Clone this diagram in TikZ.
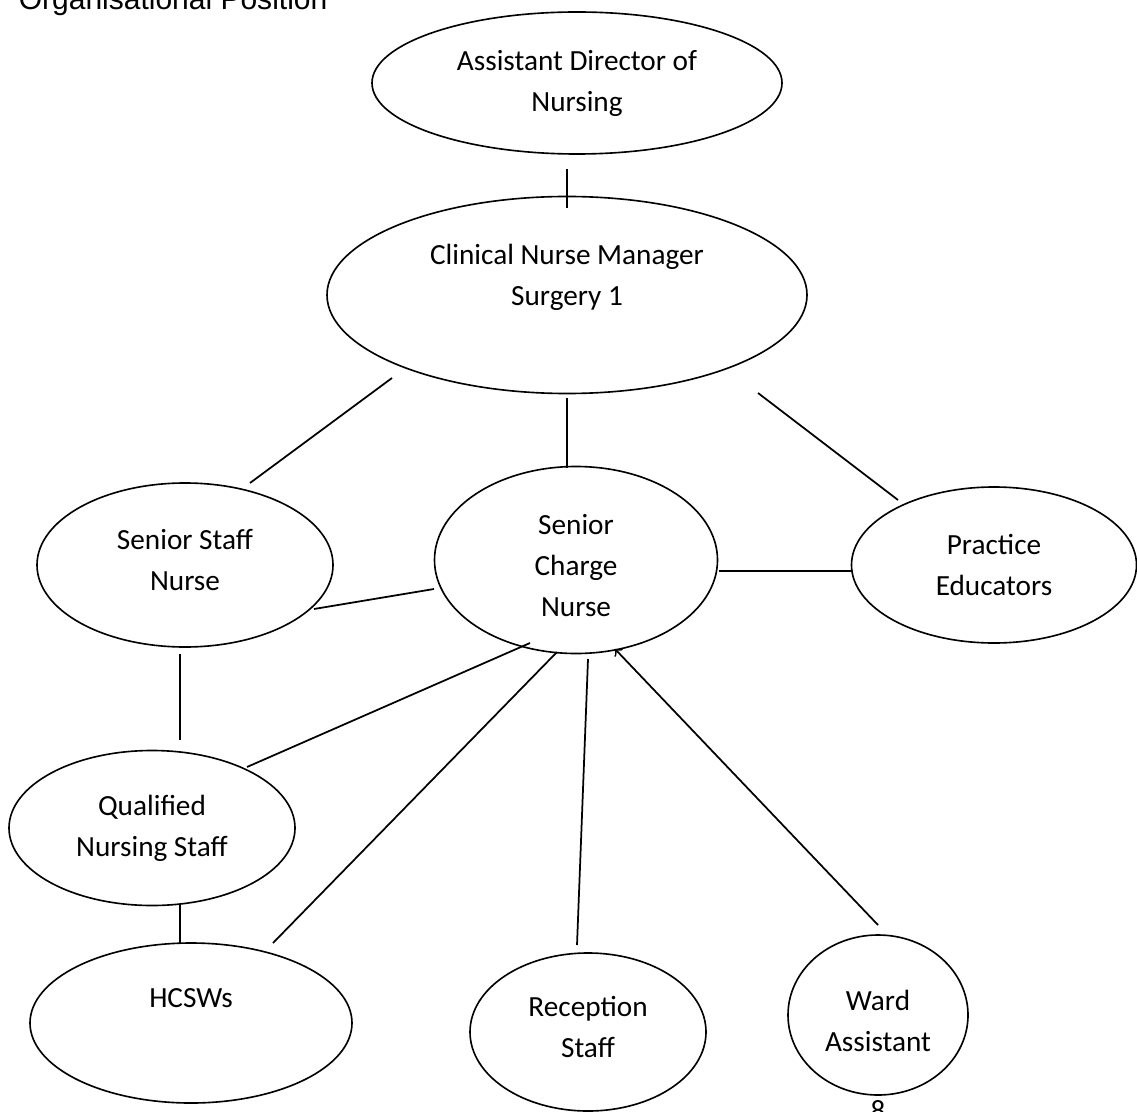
\documentclass[tikz,border=0pt]{standalone}
\usepackage{fontspec}
\usetikzlibrary{shapes.geometric,calc}
\newfontfamily\postfamily{Carlito}
\newfontfamily\headfamily{Liberation Sans}
\newcommand\postfont{\postfamily\fontsize{11.7pt}{16.4pt}\selectfont}
\newcommand\headfont{\headfamily\fontsize{12pt}{14pt}\selectfont}
\tikzset{
  post/.style={draw, ellipse, line width=0.65pt, inner sep=0pt, align=center, font=\postfont},
  link/.style={line width=0.7pt},
}
\begin{document}
\begin{tikzpicture}[x=0.4pt, y=-0.4pt]
\useasboundingbox (0,0) rectangle (1137,1111);
\node[anchor=base west, font=\headfont] (title) at (10,10) {Organisational Position};
\node[post, minimum width=164pt, minimum height=56.8pt] (adn) at (577,83) {Assistant Director of\\Nursing};
\node[post, minimum width=192pt, minimum height=78.8pt] (cnm) at (567,295) {Clinical Nurse Manager\\Surgery 1\\\mbox{}};
\node[post, minimum width=118.4pt, minimum height=65.6pt] (ssn) at (185,565) {Senior Staff\\Nurse\rule[-4pt]{0pt}{0pt}};
\node[post, minimum width=113.2pt, minimum height=74.8pt] (scn) at (576,560) {\rule{0pt}{12.6pt}Senior\\Charge\\Nurse};
\node[post, minimum width=114pt, minimum height=62.4pt] (pe) at (994,565) {Practice\\Educators};
\node[post, minimum width=114.4pt, minimum height=62pt] (qns) at (152,828) {Qualified\\Nursing Staff};
\node[post, minimum width=128.8pt, minimum height=64pt] (hcsw) at (191,1023) {HCSWs\\[4pt]\mbox{}};
\node[post, minimum width=94.4pt, minimum height=63.2pt] (rec) at (588,1032) {Reception\\Staff\rule[-4pt]{0pt}{0pt}};
\node[post, minimum width=72pt, minimum height=64pt] (ward) at (878,1015) {\rule{0pt}{12.5pt}Ward\\Assistant};
\node[anchor=base, font=\postfont] (pagenum) at (878,1120) {8};
% lines from the manager down
\draw[link] ($(adn)+(-10,86)$) -- ($(cnm)+(0,-87)$);
\draw[link] ($(cnm)+(-175,83)$) -- ($(ssn)+(65,-82)$);
\draw[link] ($(cnm)+(0,103)$) -- ($(scn)+(-9,-92)$);
\draw[link] ($(cnm)+(191,98)$) -- ($(pe)+(-96,-65)$);
% middle row
\draw[link] ($(ssn)+(129,44)$) -- ($(scn)+(-142,29)$);
\draw[link] ($(scn)+(143,11)$) -- ($(pe)+(-141,6)$);
\draw[link] ($(ssn)+(-5,89)$) -- ($(qns)+(28,-88)$);
% lines from the charge nurse
\draw[link] ($(scn)+(-46,83)$) -- ($(qns)+(95,-61)$);
\draw[link] ($(scn)+(-19,92)$) -- ($(hcsw)+(82,-80)$);
\draw[link] ($(scn)+(12,99)$) -- ($(rec)+(-11,-87)$);
\draw[link, arrows=<-] ($(scn)+(39,89)$) -- ($(ward)+(0,-90)$);
\draw[link] ($(qns)+(28,77)$) -- ($(hcsw)+(-11,-80)$);
\end{tikzpicture}
\end{document}
